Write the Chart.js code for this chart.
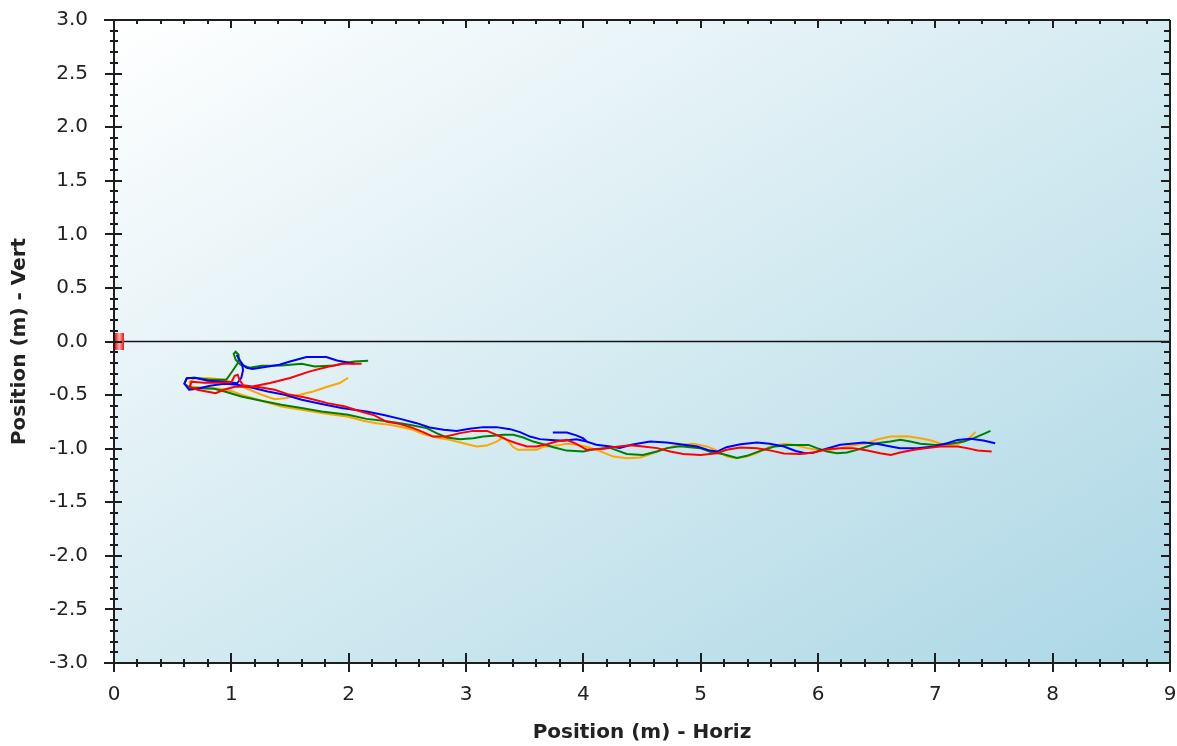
<!DOCTYPE html>
<html>
<head>
<meta charset="utf-8">
<title>Position</title>
<script src="https://cdn.jsdelivr.net/npm/chart.js@4.4.1/dist/chart.umd.min.js"></script>
<style>
  html, body { margin: 0; padding: 0; background: #fff; }
</style>
</head>
<body>
<canvas id="posChart" width="1177" height="746"></canvas>
<script>
// tracked positions, [horiz, vert] in metres; null breaks the line
const redTrack = [
  [2.11,-0.207],[1.95,-0.207],[1.84,-0.231],[1.67,-0.279],[1.50,-0.341],[1.33,-0.388],[1.18,-0.42],
  [1.10,-0.408],[1.07,-0.357],[1.054,-0.31],[1.028,-0.32],[1.003,-0.376],[0.90,-0.385],[0.77,-0.385],
  [0.66,-0.376],[0.644,-0.422],[0.71,-0.45],[0.80,-0.469],[0.866,-0.483],[0.934,-0.45],[1.03,-0.422],
  [1.20,-0.42],[1.37,-0.45],[1.48,-0.491],[1.65,-0.528],[1.82,-0.575],[1.97,-0.607],[2.11,-0.656],
  [2.22,-0.689],[2.32,-0.747],[2.44,-0.771],[2.55,-0.808],[2.635,-0.846],[2.72,-0.887],[2.83,-0.887],
  [2.95,-0.855],[3.06,-0.834],[3.18,-0.834],[3.26,-0.871],[3.35,-0.918],[3.43,-0.949],[3.52,-0.98],
  [3.60,-0.98],[3.69,-0.958],[3.77,-0.934],[3.86,-0.918],[3.94,-0.955],[4.03,-1.011],[4.14,-1.002],
  [4.285,-0.983],[4.40,-0.969],[4.51,-0.98],[4.63,-0.995],[4.74,-1.027],[4.85,-1.049],[5.00,-1.058],
  [5.14,-1.042],[5.22,-1.011],[5.34,-0.99],[5.48,-0.997],[5.59,-1.016],[5.71,-1.044],[5.85,-1.049],
  [5.96,-1.036],[6.08,-1.005],[6.19,-0.995],[6.30,-0.995],[6.42,-1.018],[6.53,-1.042],[6.62,-1.058],
  [6.70,-1.036],[6.82,-1.011],[6.93,-0.995],[7.04,-0.98],[7.19,-0.98],[7.27,-0.995],[7.36,-1.018],
  [7.48,-1.027]
];

const blueTrack = [
  [2.05,-0.207],[1.90,-0.177],[1.81,-0.145],[1.64,-0.145],[1.50,-0.186],[1.41,-0.217],[1.18,-0.257],
  [1.13,-0.245],[1.10,-0.22],[1.075,-0.18],[1.045,-0.125],[1.06,-0.15],[1.09,-0.21],[1.10,-0.265],
  [1.085,-0.34],[1.05,-0.39],[0.94,-0.375],[0.80,-0.366],[0.69,-0.338],[0.62,-0.343],[0.60,-0.394],
  [0.64,-0.45],[0.71,-0.441],[0.82,-0.413],[0.94,-0.394],[1.05,-0.404],[1.17,-0.429],[1.31,-0.466],
  [1.455,-0.497],[1.60,-0.544],[1.77,-0.584],[1.94,-0.621],[2.15,-0.653],[2.29,-0.684],[2.44,-0.722],
  [2.58,-0.762],[2.69,-0.803],[2.81,-0.824],[2.92,-0.834],[3.03,-0.815],[3.15,-0.799],[3.26,-0.799],
  [3.375,-0.818],[3.46,-0.846],[3.545,-0.887],[3.63,-0.911],[3.72,-0.918],[3.83,-0.927],[3.94,-0.913],
  [4.03,-0.934],
  null,
  [3.74,-0.85],[3.86,-0.85],[3.94,-0.876],[4.00,-0.904],[4.03,-0.934],[4.11,-0.964],[4.23,-0.98],
  [4.31,-0.993],[4.41,-0.964],[4.57,-0.934],[4.71,-0.943],[4.825,-0.958],[4.97,-0.98],[5.08,-1.018],
  [5.14,-1.027],[5.22,-0.986],[5.34,-0.958],[5.48,-0.943],[5.59,-0.955],[5.71,-0.98],[5.81,-1.021],
  [5.89,-1.042],[5.96,-1.039],[6.02,-1.016],[6.19,-0.964],[6.28,-0.955],[6.39,-0.943],[6.50,-0.955],
  [6.62,-0.98],[6.70,-0.995],[6.845,-0.995],[6.99,-0.98],[7.10,-0.949],[7.19,-0.918],[7.30,-0.908],
  [7.41,-0.924],[7.51,-0.949]
];

const greenTrack = [
  [2.166,-0.179],[2.05,-0.186],[1.967,-0.201],[1.88,-0.223],[1.71,-0.233],[1.60,-0.207],[1.43,-0.223],
  [1.26,-0.226],[1.156,-0.245],[1.08,-0.217],[1.037,-0.17],[1.02,-0.114],[1.037,-0.095],[1.062,-0.123],
  [1.062,-0.189],[1.011,-0.273],[0.957,-0.357],[0.815,-0.357],[0.687,-0.338],[0.62,-0.343],[0.60,-0.394],
  [0.644,-0.432],[0.73,-0.436],[0.857,-0.441],[0.943,-0.466],[1.085,-0.513],[1.256,-0.553],[1.427,-0.59],
  [1.597,-0.621],[1.768,-0.653],[1.995,-0.684],[2.152,-0.722],[2.294,-0.74],[2.436,-0.762],[2.55,-0.784],
  [2.664,-0.808],[2.749,-0.855],[2.835,-0.896],[2.948,-0.911],[3.061,-0.902],[3.147,-0.887],[3.232,-0.88],
  [3.317,-0.871],[3.403,-0.871],[3.488,-0.896],[3.573,-0.934],[3.659,-0.958],[3.744,-0.986],[3.858,-1.018],
  [4.00,-1.027],[4.114,-1.002],[4.228,-0.993],[4.37,-1.049],[4.509,-1.058],[4.626,-1.027],[4.712,-0.995],
  [4.825,-0.977],[4.996,-0.995],[5.081,-1.03],[5.195,-1.053],[5.309,-1.086],[5.394,-1.067],[5.508,-1.021],
  [5.621,-0.983],[5.735,-0.965],[5.92,-0.965],[5.991,-0.995],[6.077,-1.027],[6.162,-1.042],[6.247,-1.036],
  [6.333,-1.011],[6.418,-0.98],[6.503,-0.949],[6.617,-0.934],[6.702,-0.918],[6.787,-0.934],[6.872,-0.955],
  [7.001,-0.965],[7.129,-0.955],[7.242,-0.934],[7.328,-0.902],[7.413,-0.862],[7.47,-0.834]
];

const orangeTrack = [
  [1.995,-0.338],[1.924,-0.388],[1.811,-0.425],[1.696,-0.466],[1.583,-0.497],[1.469,-0.528],[1.369,-0.539],
  [1.259,-0.497],[1.156,-0.45],[1.054,-0.404],[0.943,-0.357],[0.815,-0.343],[0.687,-0.343],[0.644,-0.376],
  [0.661,-0.422],[0.772,-0.432],[0.90,-0.441],[1.011,-0.466],[1.085,-0.497],[1.256,-0.553],[1.427,-0.607],
  [1.597,-0.637],[1.768,-0.668],[1.995,-0.703],[2.123,-0.74],[2.237,-0.762],[2.351,-0.778],[2.464,-0.803],
  [2.55,-0.824],[2.635,-0.864],[2.749,-0.896],[2.862,-0.918],[2.976,-0.949],[3.09,-0.98],[3.176,-0.971],
  [3.261,-0.934],[3.317,-0.894],[3.358,-0.927],[3.40,-0.983],[3.443,-1.011],[3.602,-1.011],[3.659,-0.983],
  [3.759,-0.974],[3.858,-0.955],[3.944,-0.964],[4.029,-0.983],[4.114,-1.011],[4.256,-1.074],[4.37,-1.089],
  [4.484,-1.083],[4.569,-1.053],[4.683,-1.007],[4.797,-0.969],[4.939,-0.955],[5.053,-0.979],[5.138,-1.016],
  [5.224,-1.074],[5.309,-1.089],[5.394,-1.074],[5.48,-1.042],[5.593,-0.98],[5.707,-0.957],[5.792,-0.964],
  [5.906,-0.995],[5.991,-1.011],[6.077,-1.016],[6.19,-0.995],[6.304,-0.969],[6.418,-0.949],[6.503,-0.914],
  [6.617,-0.886],[6.76,-0.884],[6.845,-0.899],[6.958,-0.922],[7.072,-0.964],[7.186,-0.96],[7.271,-0.918],
  [7.317,-0.871],[7.342,-0.843]
];

// reference line and origin marker
const zeroLine = [[0, 0], [9, 0]];
const originMark = [[0.045, 0]];

const xRange = [0, 9];
const yRange = [-3, 3];

function toPoints(track) {
  return track.map(p => p ? { x: p[0], y: p[1] } : { x: null, y: null });
}

// small red block used as the origin point style
const markImg = document.createElement('canvas');
markImg.width = 9;
markImg.height = 17;
(function () {
  const c = markImg.getContext('2d');
  const g = c.createLinearGradient(0, 0, 9, 0);
  g.addColorStop(0, '#f01010');
  g.addColorStop(0.5, '#ffb0b0');
  g.addColorStop(1, '#f01010');
  c.fillStyle = g;
  c.fillRect(0, 0, 9, 17);
})();

const plotBackground = {
  id: 'plotBackground',
  beforeDraw(chart) {
    const { ctx, chartArea: a } = chart;
    const w = a.right - a.left, h = a.bottom - a.top;
    const cx = a.left + w / 2, cy = a.top + h / 2;
    const d = Math.sqrt(w * w + h * h);
    const ux = h / d, uy = w / d, half = w * h / d;
    const g = ctx.createLinearGradient(cx - ux * half, cy - uy * half, cx + ux * half, cy + uy * half);
    g.addColorStop(0, '#ffffff');
    g.addColorStop(1, '#acd7e5');
    ctx.save();
    ctx.fillStyle = g;
    ctx.fillRect(a.left, a.top, w, h);
    ctx.restore();
  }
};

// frame round the plot with major and minor tick marks
const frameTicks = {
  id: 'frameTicks',
  afterDraw(chart) {
    const { ctx, chartArea: a, scales } = chart;
    const xs = scales.x, ys = scales.y;
    ctx.save();
    ctx.strokeStyle = '#1e1e1e';
    ctx.lineWidth = 2;
    ctx.beginPath();
    const seg = (x1, y1, x2, y2) => { ctx.moveTo(x1, y1); ctx.lineTo(x2, y2); };

    for (let i = 0; i <= 45; i++) {
      const px = Math.round(xs.getPixelForValue(i * 0.2));
      const major = i % 5 === 0;
      if (major) seg(px, a.bottom - 10, px, a.bottom + 9);
      else seg(px, a.bottom - 4, px, a.bottom + 4);
      seg(px, a.top, px, a.top + (major ? 8 : 4));
    }
    for (let i = 0; i <= 60; i++) {
      const py = Math.round(ys.getPixelForValue(-3 + i * 0.1));
      const major = i % 5 === 0;
      if (major) seg(a.left - 9, py, a.left + 8, py);
      else seg(a.left - 4, py, a.left + 4, py);
      seg(a.right, py, a.right - (major ? 9 : 6), py);
    }
    seg(a.left - 10, a.top, a.right, a.top);
    seg(a.left - 10, a.bottom, a.right, a.bottom);
    seg(a.left, a.top, a.left, a.bottom + 9);
    seg(a.right, a.top, a.right, a.bottom + 9);
    ctx.stroke();
    ctx.restore();
  }
};

const trackStyle = color => ({
  showLine: true,
  borderColor: color,
  backgroundColor: color,
  borderWidth: 2,
  pointRadius: 0,
  tension: 0,
  spanGaps: false
});

// invisible tick marks only push the labels away from the axis
const hiddenTicks = len => ({
  display: true,
  drawOnChartArea: false,
  drawTicks: true,
  tickLength: len,
  tickColor: 'rgba(0,0,0,0)'
});

new Chart(document.getElementById('posChart'), {
  type: 'scatter',
  data: {
    datasets: [
      { data: toPoints(originMark), pointStyle: markImg, pointRadius: 8, showLine: false },
      Object.assign({ data: toPoints(redTrack) }, trackStyle('#ff0000')),
      Object.assign({ data: toPoints(blueTrack) }, trackStyle('#0000ff')),
      Object.assign({ data: toPoints(greenTrack) }, trackStyle('#008000')),
      Object.assign({ data: toPoints(orangeTrack) }, trackStyle('#ffa500')),
      Object.assign({ data: toPoints(zeroLine) }, trackStyle('#141414'), { borderWidth: 1.5 })
    ]
  },
  options: {
    responsive: false,
    animation: false,
    devicePixelRatio: 1,
    layout: { autoPadding: false, padding: { top: 20, right: 7, left: 0, bottom: 0 } },
    plugins: {
      legend: { display: false },
      tooltip: { enabled: false }
    },
    scales: {
      x: {
        type: 'linear',
        min: xRange[0],
        max: xRange[1],
        grid: hiddenTicks(20),
        border: { display: false },
        ticks: {
          stepSize: 1,
          padding: 0,
          color: '#222',
          font: { family: 'DejaVu Sans', size: 20 },
          maxRotation: 0
        },
        title: {
          display: true,
          text: 'Position (m) - Horiz',
          color: '#222',
          font: { family: 'DejaVu Sans', size: 20, weight: 'bold' },
          padding: { top: 0, bottom: 1 }
        },
        afterFit(scale) { scale.height = 83; }
      },
      y: {
        type: 'linear',
        min: yRange[0],
        max: yRange[1],
        grid: hiddenTicks(26),
        border: { display: false },
        ticks: {
          stepSize: 0.5,
          padding: 0,
          color: '#222',
          font: { family: 'DejaVu Sans', size: 20 },
          callback: v => v.toFixed(1)
        },
        title: {
          display: true,
          text: 'Position (m) - Vert',
          color: '#222',
          font: { family: 'DejaVu Sans', size: 20, weight: 'bold' },
          padding: { top: 8, bottom: 0 }
        },
        afterFit(scale) { scale.width = 114; }
      }
    }
  },
  plugins: [plotBackground, frameTicks]
});
</script>
</body>
</html>
